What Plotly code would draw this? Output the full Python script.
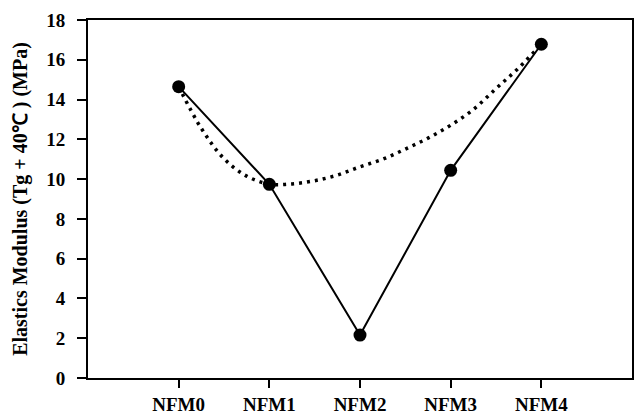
import plotly.graph_objects as go

categories = ["NFM0", "NFM1", "NFM2", "NFM3", "NFM4"]
modulus = [14.65, 9.74, 2.16, 10.44, 16.78]

# dotted trend curve
trend_x = [0, 0.25, 0.5, 0.75, 1.0, 1.25, 1.5, 1.75, 2.0, 2.25, 2.5, 2.75, 3.0, 3.25, 3.5, 3.75, 4.0]
trend_y = [14.65, 12.55, 11.03, 10.15, 9.75, 9.76, 9.92, 10.2, 10.62, 11.0, 11.51, 12.06, 12.71, 13.5, 14.55, 15.59, 16.78]

y_ticks = [0, 2, 4, 6, 8, 10, 12, 14, 16, 18]

FONT = "Liberation Serif"

fig = go.Figure()
fig.add_trace(go.Scatter(
    x=trend_x, y=trend_y, mode="lines",
    line=dict(color="black", width=3.5, dash="3px,5px", shape="spline"),
    hoverinfo="skip", showlegend=False,
))
fig.add_trace(go.Scatter(
    x=list(range(len(categories))), y=modulus, mode="lines+markers",
    line=dict(color="black", width=2),
    marker=dict(color="black", size=13),
    showlegend=False,
))

fig.update_layout(
    width=639, height=417,
    margin=dict(l=88, r=7, t=20, b=39),
    paper_bgcolor="white", plot_bgcolor="white",
    font=dict(family=FONT, color="black"),
)
fig.update_xaxes(
    range=[-1, 5], tickmode="array",
    tickvals=list(range(len(categories))), ticktext=categories,
    showgrid=False, zeroline=False,
    showline=True, linecolor="black", linewidth=2, mirror=True,
    ticks="outside", ticklen=8, tickwidth=2, tickcolor="black",
    tickfont=dict(family=FONT, size=19, color="black", weight="bold"),
    automargin=False,
)
fig.update_yaxes(
    range=[0, 18], tickmode="array", tickvals=y_ticks,
    showgrid=False, zeroline=False,
    showline=True, linecolor="black", linewidth=2, mirror=True,
    ticks="outside", ticklen=9, tickwidth=2, tickcolor="black",
    tickfont=dict(family=FONT, size=19, color="black", weight="bold"),
    ticklabelstandoff=8,
    title=dict(text="Elastics Modulus (Tg + 40℃ ) (MPa)",
               font=dict(family=FONT, size=20, color="black", weight="bold"),
               standoff=13),
    automargin=False,
)

fig.write_html("out.html", config={"displayModeBar": False},
               post_script="document.body.style.margin='0';")
